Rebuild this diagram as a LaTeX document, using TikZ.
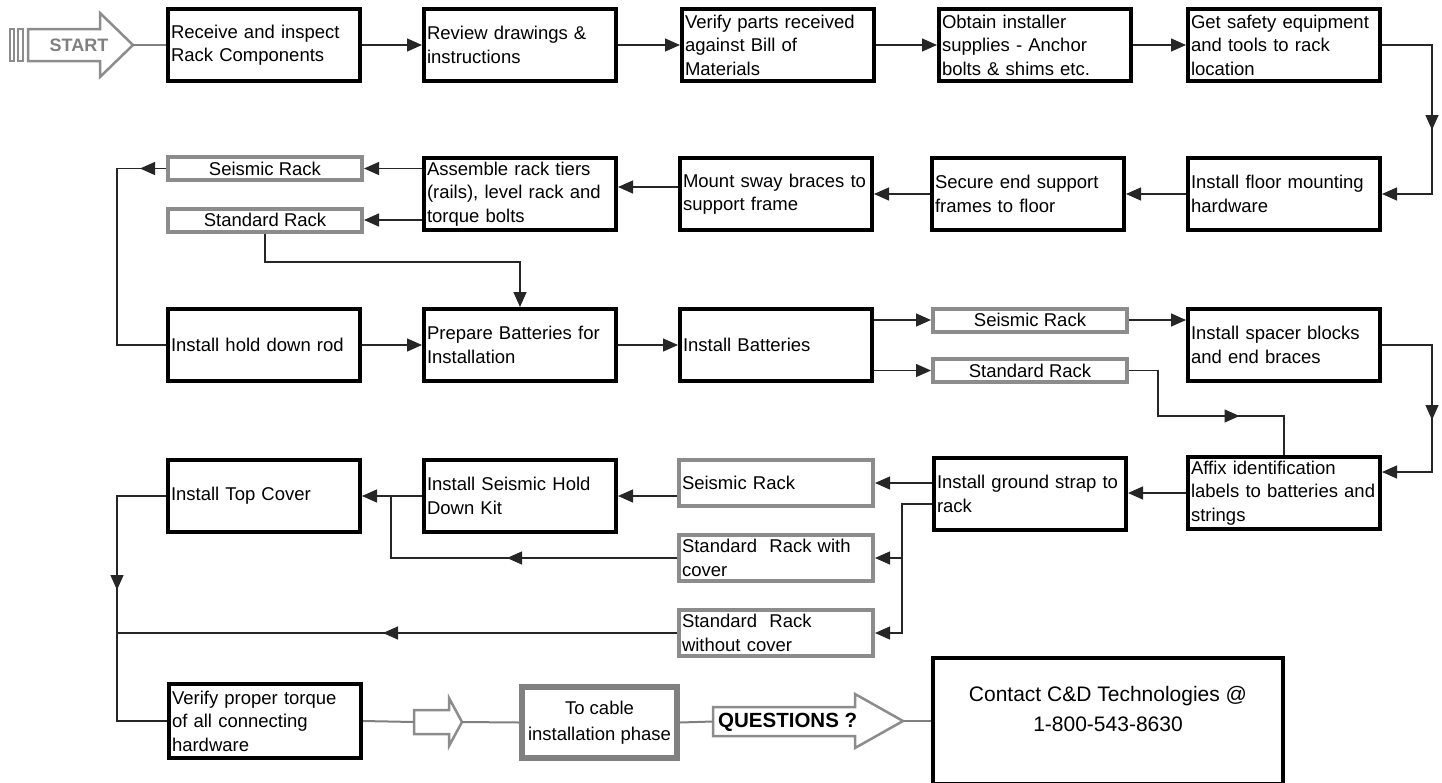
\documentclass[tikz,border=0pt]{standalone}
\usepackage{fontspec}
\setmainfont{Liberation Sans}
\usetikzlibrary{arrows.meta,calc,decorations.markings}
\begin{document}
\begin{tikzpicture}[x=1pt,y=-1pt,
  font=\fontsize{18.5}{23.5}\selectfont,
  mainbox/.style={draw=black, line width=4pt, minimum width=192pt, minimum height=72pt,
    text width=186pt, inner xsep=3pt, inner ysep=0pt, align=left},
  graybox/.style={draw=black!45, line width=4pt, minimum width=194pt, minimum height=23pt,
    inner sep=0pt, align=center},
  graylbox/.style={draw=black!45, line width=4pt, minimum width=194pt, minimum height=46pt,
    text width=188pt, inner xsep=3pt, inner ysep=0pt, align=left},
  cablebox/.style={draw=black!50, line width=6pt, minimum width=155pt, minimum height=71pt,
    inner sep=0pt, align=center, font=\fontsize{18.5}{26}\selectfont},
  conn/.style={color=black!85, line width=1.3pt},
  arr/.style={conn, -{Triangle[length=15pt,width=13pt]}},
  midarr/.style={postaction={decorate,decoration={markings,
    mark=at position #1 with {\arrow{Triangle[length=15pt,width=13pt]}}}}},
  gconn/.style={draw=black!50, line width=2pt},
  garrow/.style={draw=black!45, line width=2.5pt, fill=white, line join=miter}
]
\clip (0,0) rectangle (1442,782);

% START arrow
\draw[garrow] (10,29) rectangle (14,61);
\draw[garrow] (18,29) rectangle (23,61);
\draw[garrow] (28,29) -- (100,29) -- (100,13) -- (133,45) -- (100,77) -- (100,61) -- (28,61) -- cycle;
\node[font=\bfseries\fontsize{18}{20}\selectfont, text=black!50] (start) at (79,45) {START};
\coordinate (starttip) at (133,45);

% Row 1
\node[mainbox] (b1) at (264,45) {Receive and inspect\\Rack Components};
\node[mainbox] (b2) at (520,45) {Review drawings \&\\instructions};
\node[mainbox] (b3) at (778,45) {Verify parts received\\against Bill of\\Materials};
\node[mainbox] (b4) at (1035,45) {Obtain installer\\supplies - Anchor\\bolts \& shims etc.};
\node[mainbox] (b5) at (1284,45) {Get safety equipment\\and tools to rack\\location};

% Row 2
\node[mainbox] (f) at (1284,194) {Install floor mounting\\hardware};
\node[mainbox] (e) at (1028,194) {Secure end support\\frames to floor};
\node[mainbox] (m) at (776,194) {Mount sway braces to\\support frame};
\node[mainbox] (a) at (520,194) {Assemble rack tiers\\(rails), level rack and\\torque bolts};
\node[graybox] (s2) at (265,168.5) {Seismic Rack};
\node[graybox] (t2) at (265,220) {Standard Rack};

% Row 3
\node[mainbox] (h) at (264,345) {Install hold down rod};
\node[mainbox] (p) at (520,345) {Prepare Batteries for\\Installation};
\node[mainbox] (ib) at (776,345) {Install Batteries};
\node[graybox] (s3) at (1030,320) {Seismic Rack};
\node[graybox] (t3) at (1030,370.5) {Standard Rack};
\node[mainbox] (sp) at (1284,345) {Install spacer blocks\\and end braces};

% Row 4
\node[mainbox] (tc) at (264,496) {Install Top Cover};
\node[mainbox] (hk) at (520,496) {Install Seismic Hold\\Down Kit};
\node[graylbox] (s4) at (776,483) {Seismic Rack};
\node[graylbox] (wc) at (776,558) {Standard~~Rack with\\cover};
\node[graylbox] (wo) at (776,633) {Standard~~Rack\\without cover};
\node[mainbox] (g) at (1030,494) {Install ground strap to\\rack};
\node[mainbox] (af) at (1284,493) {Affix identification\\labels to batteries and\\strings};

% Bottom row
\node[mainbox, minimum height=74pt] (v) at (265,721) {Verify proper torque\\of all connecting\\hardware};
\draw[garrow] (414,710) -- (449,710) -- (449,698) -- (462,722) -- (449,746) -- (449,734) -- (414,734) -- cycle;
\coordinate (h1tail) at (414,722);
\coordinate (h1tip) at (462,722);
\node[cablebox] (tcab) at (599.5,722.5) {To cable\\installation phase};
\draw[garrow] (713,707) -- (855,707) -- (855,694) -- (903,721) -- (855,748) -- (855,736) -- (713,736) -- cycle;
\coordinate (qtail) at (713,721.5);
\coordinate (qtip) at (903,721);
\node[anchor=west, inner sep=0pt, font=\bfseries\fontsize{20.5}{22}\selectfont] (qtext) at (718,722) {QUESTIONS ?};
\node[draw=black, line width=4pt, minimum width=350pt, minimum height=126pt] (contact) at (1108,721) {};
\node[font=\fontsize{21}{30}\selectfont, align=center] (ctext) at (1108,709) {Contact C\&D Technologies @\\1-800-543-8630};

% junction coordinates
\coordinate (jL) at (117,0);
\coordinate (jM) at (391,0);
\coordinate (jR) at (902,0);
\coordinate (jE) at (1432,0);
\coordinate (k1) at (1158,416);
\coordinate (k2) at (0,262);

% Row 1 connectors
\draw[gconn] (starttip) -- (b1.west);
\draw[arr] (b1.east) -- (b2.west);
\draw[arr] (b2.east) -- (b3.west);
\draw[arr] (b3.east) -- (b4.west);
\draw[arr] (b4.east) -- (b5.west);
\draw[arr, midarr=135pt] (b5.east) -| (jE |- f.east) -- (f.east);

% Row 2 connectors
\draw[arr] (f.west) -- (e.east);
\draw[arr] (e.west) -- (m.east);
\draw[arr] ($(m.west)+(0,-7)$) -- ($(a.east)+(0,-7)$);
\draw[arr] (a.west |- s2.east) -- (s2.east);
\draw[arr] (a.west |- t2.east) -- (t2.east);
\draw[conn, midarr=26pt] (s2.west) -| (jL |- h.west) -- (h.west);
\draw[arr] (t2.south) |- (p.north |- k2) -- (p.north);

% Row 3 connectors
\draw[arr] (h.east) -- (p.west);
\draw[arr] (p.east) -- (ib.west);
\draw[arr] (ib.east |- s3.west) -- (s3.west);
\draw[arr] (ib.east |- t3.west) -- (t3.west);
\draw[arr] (s3.east) -- (sp.west |- s3.east);
\draw[conn, midarr=156pt] (t3.east) -| (k1) -| (af.north);
\draw[arr, midarr=125pt] (sp.east) -| ($(af.east -| jE)+(0,-21)$) -- ($(af.east)+(0,-21)$);

% Row 4 connectors
\draw[arr] (af.west) -- (g.east |- af.west);
\draw[arr] (g.west |- s4.east) -- (s4.east);
\draw[arr] ($(g.west)+(0,10)$) -| (jR |- wo.east) -- (wo.east);
\draw[arr] (jR |- wc.east) -- (wc.east);
\draw[arr] (s4.west |- hk.east) -- (hk.east);
\draw[arr] (hk.west) -- (tc.east);
\draw[conn, midarr=170pt] (wc.west) -| (jM |- hk.west);
\draw[conn, midarr=294pt] (wo.west) -- (jL |- wo.west);
\draw[conn, midarr=143pt] (tc.west) -| (jL |- v.west) -- (v.west);

% Bottom connectors
\draw[gconn] (v.east) -- (h1tail);
\draw[gconn] (h1tip) -- (tcab.west);
\draw[gconn] (tcab.east) -- (qtail);
\draw[gconn] (qtip) -- (contact.west);
\end{tikzpicture}
\end{document}
